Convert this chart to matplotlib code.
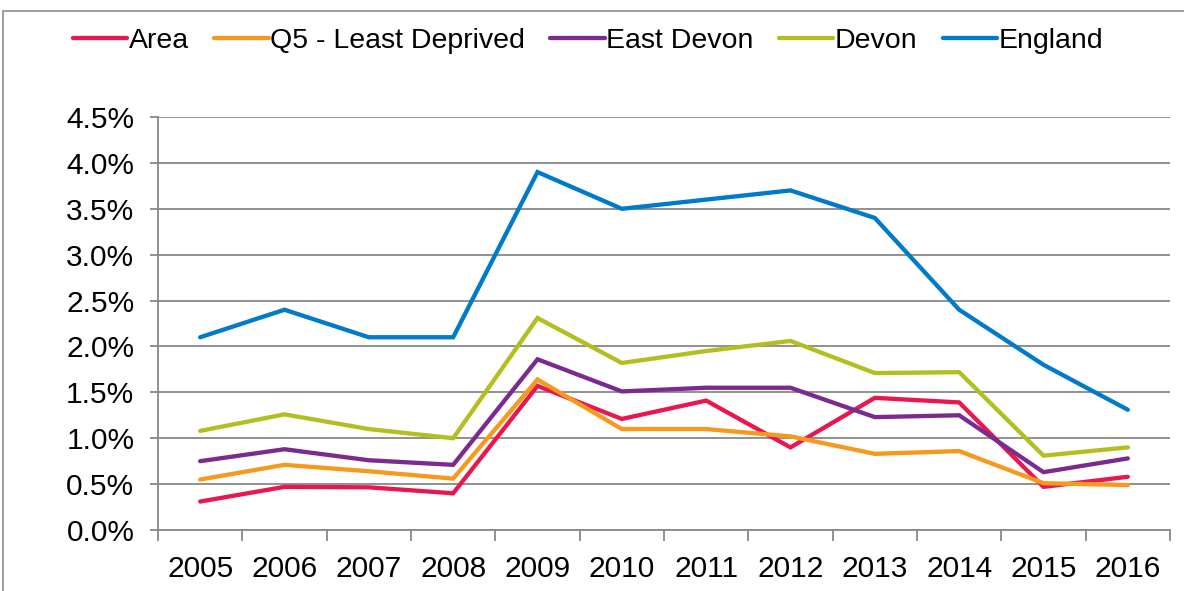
import matplotlib.pyplot as plt
import matplotlib.patches as patches
import numpy as np

plt.rcParams['font.family'] = ['Liberation Sans', 'DejaVu Sans']

years = ["2005", "2006", "2007", "2008", "2009", "2010",
         "2011", "2012", "2013", "2014", "2015", "2016"]
area = [0.31, 0.47, 0.465, 0.40, 1.57, 1.21, 1.41, 0.90, 1.44, 1.39, 0.47, 0.58]
q5 = [0.55, 0.71, 0.64, 0.56, 1.64, 1.10, 1.10, 1.02, 0.83, 0.86, 0.51, 0.49]
east_devon = [0.75, 0.88, 0.76, 0.71, 1.86, 1.51, 1.55, 1.55, 1.23, 1.25, 0.63, 0.78]
devon = [1.08, 1.26, 1.10, 1.00, 2.31, 1.82, 1.95, 2.06, 1.71, 1.72, 0.81, 0.90]
england = [2.10, 2.40, 2.10, 2.10, 3.90, 3.50, 3.60, 3.70, 3.40, 2.40, 1.80, 1.31]

series = [
    ("Area", area, "#E8184F"),
    ("Q5 - Least Deprived", q5, "#F7991D"),
    ("East Devon", east_devon, "#7B2B90"),
    ("Devon", devon, "#B3BE1F"),
    ("England", england, "#007AC9"),
]

fig = plt.figure(figsize=(11.84, 5.91), dpi=100)
ax = fig.add_axes([158 / 1184, 61 / 591, (1170 - 158) / 1184, (530 - 117) / 591])

x = np.arange(len(years))
for name, vals, col in series:
    ax.plot(x, vals, color=col, lw=3.1, label=name, solid_capstyle="round",
            solid_joinstyle="miter")

grid_col = "#888888"
ax.set_xlim(-0.5, len(years) - 0.5)
ax.set_ylim(0, 4.5)
ax.set_yticks(np.arange(0, 4.51, 0.5))
ax.set_yticklabels([f"{v:.1f}%" for v in np.arange(0, 4.51, 0.5)])
ax.yaxis.grid(True, color=grid_col, lw=1.3)
ax.set_axisbelow(True)

# category boundaries get the tick marks, labels sit in between
ax.set_xticks(np.arange(-0.5, len(years), 1.0))
ax.set_xticklabels([])
ax.set_xticks(x, minor=True)
ax.set_xticklabels(years, minor=True)
ax.tick_params(axis="x", which="major", length=8, width=1.3, color=grid_col)
ax.tick_params(axis="x", which="minor", length=0, pad=18, labelsize=21.5)
ax.tick_params(axis="y", length=6, width=1.3, color=grid_col, labelsize=21.5, pad=11)

for s in ["top", "right"]:
    ax.spines[s].set_visible(False)
for s in ["left", "bottom"]:
    ax.spines[s].set_color(grid_col)
    ax.spines[s].set_linewidth(1.3)

fig.legend(loc="center", bbox_to_anchor=(588 / 1184, 1 - 41 / 591), ncol=5,
           frameon=False, fontsize=20.5, handlelength=1.9, handletextpad=0.05,
           columnspacing=0.9)

border = patches.Rectangle((3 / 1184, -0.1), 1.2, (591 - 11) / 591 + 0.1,
                           transform=fig.transFigure, fill=False,
                           edgecolor="#8c8c8c", lw=1.2)
fig.patches.append(border)

fig.savefig("out.png", dpi=100)
